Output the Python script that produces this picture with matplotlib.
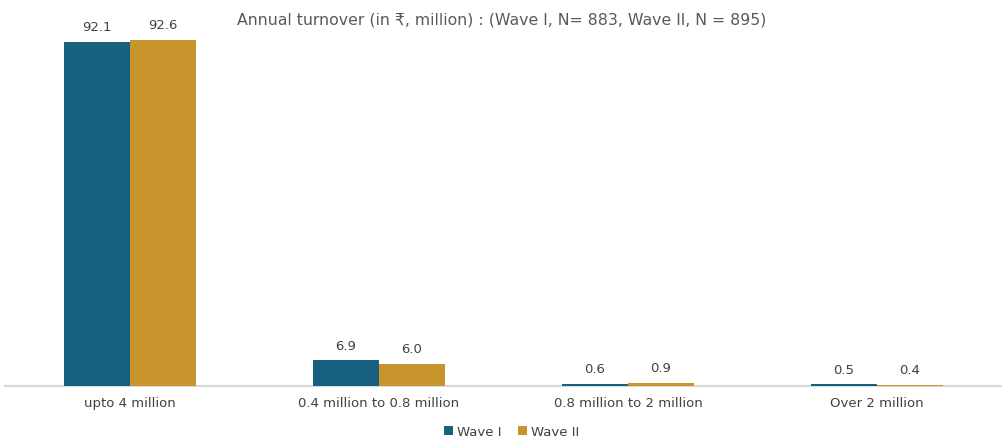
import matplotlib.pyplot as plt
import numpy as np

plt.rcParams['font.family'] = ['DejaVu Sans']

# Turnover bands and share of respondents (%) in each wave
categories = ['upto 4 million', '0.4 million to 0.8 million',
              '0.8 million to 2 million', 'Over 2 million']
wave1 = [92.1, 6.9, 0.6, 0.5]
wave2 = [92.6, 6.0, 0.9, 0.4]

c1 = '#17607f'
c2 = '#c8952d'
text_col = '#404040'

fig = plt.figure(figsize=(10.03, 4.39), dpi=100)
ax = fig.add_axes([5.5 / 1003, 52 / 439, 996 / 1003, 374 / 439])

x = np.arange(len(categories))
w = 0.265
b1 = ax.bar(x - w / 2, wave1, w, color=c1, label='Wave I', zorder=3)
b2 = ax.bar(x + w / 2, wave2, w, color=c2, label='Wave II', zorder=3)

for bars, vals in ((b1, wave1), (b2, wave2)):
    for bar, v in zip(bars, vals):
        ax.annotate(f'{v:.1f}', (bar.get_x() + bar.get_width() / 2, v),
                    xytext=(0, 6), textcoords='offset points',
                    ha='center', va='bottom', fontsize=9.5, color=text_col)

ax.set_xlim(-0.5, 3.5)
ax.set_ylim(0, 100)
ax.set_xticks(x)
ax.set_xticklabels(categories, fontsize=9.5, color=text_col)
ax.tick_params(axis='x', length=0, pad=7)
ax.set_yticks([])
for s in ['top', 'right', 'left']:
    ax.spines[s].set_visible(False)
ax.spines['bottom'].set_color('#d9d9d9')
ax.spines['bottom'].set_linewidth(1.5)
ax.spines['bottom'].set_zorder(1)

fig.text(0.5, 0.955, 'Annual turnover (in ₹, million) : (Wave I, N= 883, Wave II, N = 895)',
         ha='center', va='center', fontsize=11.3, color='#595959')

fig.legend(loc='center', bbox_to_anchor=(0.51, 0.015), ncol=2, frameon=False,
           fontsize=9.5, handlelength=0.7, handleheight=0.7, handletextpad=0.3,
           columnspacing=1.2, labelcolor=text_col)

fig.savefig('out.png', dpi=100)
